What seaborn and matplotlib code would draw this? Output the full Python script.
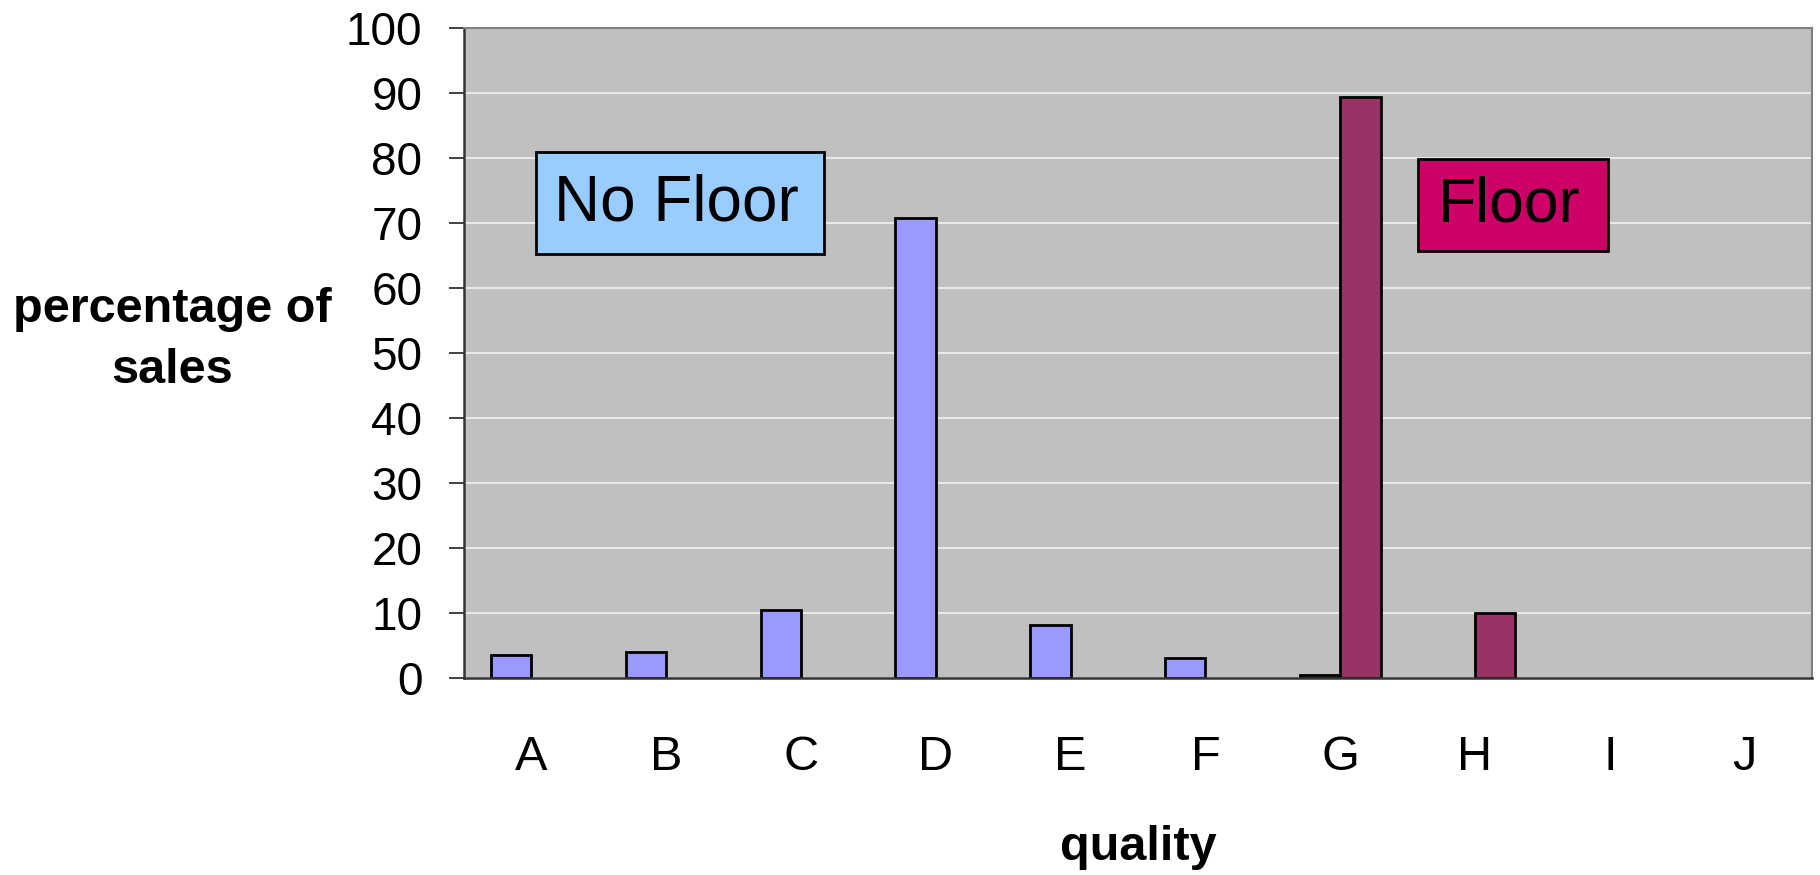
import matplotlib
matplotlib.use("Agg")
import matplotlib.pyplot as plt
from matplotlib.patches import Rectangle
import numpy as np
import pandas as pd
import seaborn as sns

# Share of sales by quality grade, with and without a price floor
qualities = ["A", "B", "C", "D", "E", "F", "G", "H", "I", "J"]
no_floor = [3.5, 4.0, 10.5, 70.8, 8.1, 3.1, 0.5, np.nan, np.nan, np.nan]
floor = [np.nan, np.nan, np.nan, np.nan, np.nan, np.nan, 89.4, 10.0, np.nan, np.nan]
series_names = ["No Floor", "Floor"]
y_ticks = [0, 10, 20, 30, 40, 50, 60, 70, 80, 90, 100]

df = pd.DataFrame({
    "quality": qualities * 2,
    "pct": no_floor + floor,
    "series": [series_names[0]] * len(qualities) + [series_names[1]] * len(qualities),
})

sns.set_style("white")
plt.rcParams["font.family"] = ["Liberation Sans", "DejaVu Sans"]
plt.rcParams.update({
    "text.color": "black",
    "axes.labelcolor": "black",
    "xtick.color": "black",
    "ytick.color": "black",
})

fig = plt.figure(figsize=(18.2, 8.75), dpi=100)
ax = fig.add_axes([464 / 1820, 1 - 678 / 875, 1348 / 1820, 650 / 875])
ax.set_facecolor("#C0C0C0")

sns.barplot(
    data=df, x="quality", y="pct", hue="series",
    order=qualities, hue_order=series_names,
    palette={"No Floor": "#9999FF", "Floor": "#993366"},
    saturation=1, width=0.6, edgecolor="black", linewidth=2.0,
    errorbar=None, legend=False, ax=ax,
)

ax.set_xlim(-0.5, len(qualities) - 0.5)
ax.set_ylim(0, 100)
ax.set_yticks(y_ticks)
ax.set_yticklabels([str(v) for v in y_ticks], fontsize=33)
ax.yaxis.grid(True, color="#EEEEEE", linewidth=1.3)
ax.xaxis.grid(False)
ax.set_axisbelow(True)

# category labels at centres, tick marks on the category boundaries
ax.set_xticks(range(len(qualities)))
ax.set_xticklabels(qualities, fontsize=35)
ax.tick_params(axis="x", which="major", length=0, pad=41)
ax.set_xticks(np.arange(-0.5, len(qualities)), minor=True)
ax.tick_params(axis="x", which="minor", length=12, width=1.2, color="#222222", direction="out")
ax.tick_params(axis="y", which="major", length=11, width=1.2, color="#222222", direction="out", pad=19, left=True)

for side in ["left", "bottom"]:
    ax.spines[side].set_color("#333333")
    ax.spines[side].set_linewidth(1.8)
for side in ["top", "right"]:
    ax.spines[side].set_color("#808080")
    ax.spines[side].set_linewidth(1.5)

ax.set_xlabel("quality", fontsize=35, fontweight="bold", va="center")
ax.xaxis.set_label_coords(0.5, (678 - 847) / 650)
ax.set_ylabel("percentage of\nsales", fontsize=35, fontweight="bold",
              rotation=0, ha="center", va="center", linespacing=1.45)
ax.yaxis.set_label_coords((172 - 464) / 1348, (678 - 340) / 650)

# series callouts
callouts = [
    ("No Floor", 0.034, 2.171, 65.2, 80.9, "#99CCFF", 46),
    ("Floor", 6.577, 7.987, 65.7, 79.8, "#CC0066", 45),
]
for text, x0, x1, y0, y1, fc, fs in callouts:
    ax.add_patch(Rectangle((x0, y0), x1 - x0, y1 - y0, facecolor=fc,
                           edgecolor="black", linewidth=2.0, zorder=5))
    ax.text((x0 + x1) / 2 - 0.03, (y0 + y1) / 2, text, fontsize=fs,
            ha="center", va="center", zorder=6)

fig.savefig("out.png", dpi=100)
